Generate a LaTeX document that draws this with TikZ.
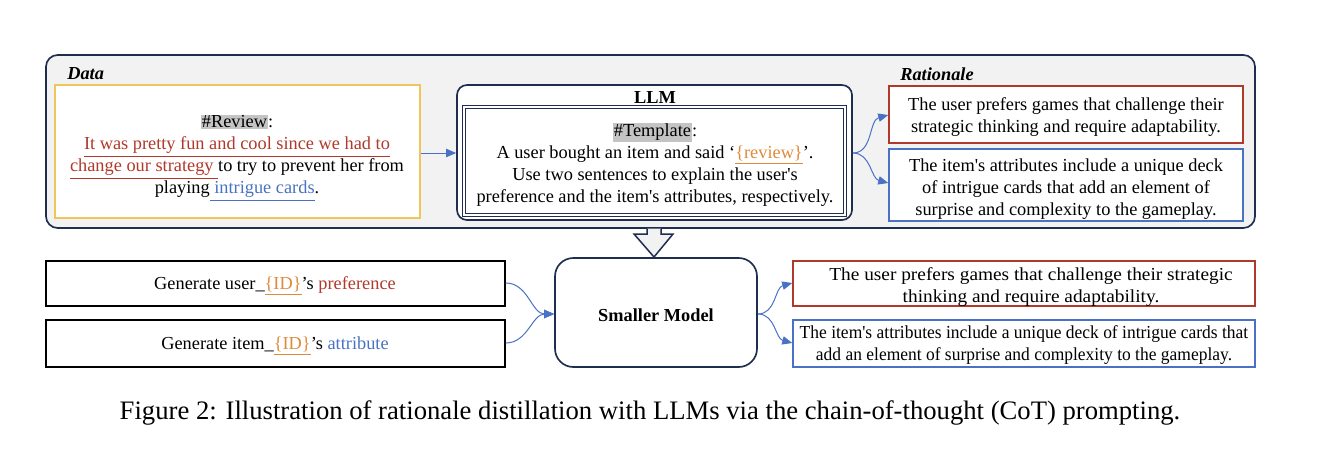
\documentclass[tikz,border=0pt]{standalone}
\usepackage{fontspec}
\setmainfont{Liberation Serif}
\usetikzlibrary{arrows.meta,fit}
\definecolor{navy}{HTML}{1F2D4E}
\definecolor{myred}{HTML}{B0392B}
\definecolor{myblue}{HTML}{4A72C4}
\definecolor{myorange}{HTML}{E08A3C}
\definecolor{myyellow}{HTML}{F0C65A}
\definecolor{panel}{HTML}{F2F2F2}
\definecolor{hl}{HTML}{C4C4C4}
\newcommand{\hlbox}[1]{{\setlength{\fboxsep}{0.6pt}\colorbox{hl}{#1}}}
\newcommand{\myul}[1]{\underline{#1}}
\newcommand{\twolines}[3]{\scalebox{#1}[1]{\begin{tabular}{@{}c@{}}#2\\#3\end{tabular}}}
\begin{document}
\begin{tikzpicture}[x=0.6pt,y=-0.6pt,
  txt/.style={font=\fontsize{11}{13.2}\selectfont, align=center, inner sep=0pt},
  frame/.style={inner sep=0pt, line width=0.9pt},
  conn/.style={draw=myblue, line width=0.6pt, -{Triangle[length=6pt,width=5pt]}},
  lbl/.style={font=\fontsize{11}{13.2}\selectfont\bfseries\itshape, anchor=west, inner sep=0pt}]
\useasboundingbox (0,0) rectangle (1321,453);

% top panel
\node[frame, fit={(46,55) (1255,228)}, draw=navy, fill=panel, rounded corners=7pt, line width=1pt] (panel) {};
\node[lbl] (datalbl) at (67,74) {Data};
\node[lbl] (ratlbl) at (900,74) {Rationale};

% data box
\node[frame, fit={(55,85) (420,218)}, draw=myyellow, fill=white, line width=1pt] (data) {};
\node[txt] (datatxt) at (237,158) {\hlbox{\#Review}:\\
{\color{myred}\myul{It was pretty fun and cool since we had to}}\\
{\color{myred}\myul{change our strategy\ }}to try to prevent her from\\
playing{\color{myblue}\myul{\ intrigue cards}}.};

% LLM box
\node[frame, fit={(457,85) (852,220)}, draw=navy, fill=white, rounded corners=6pt, line width=1pt] (llm) {};
\node[font=\fontsize{11}{13.2}\selectfont\bfseries, inner sep=0pt] (llmlbl) at (655,97) {LLM};
\node[frame, fit={(464,107) (845,215)}, draw=navy, double=white, double distance=1.3pt, line width=0.6pt] (tmpl) {};
\node[txt] (tmpltxt) at (655,165) {\hlbox{\#Template}:\\
A user bought an item and said `{\color{myorange}\myul{\{review\}}}'.\\
Use two sentences to explain the user\textquotesingle s\\
preference and the item\textquotesingle s attributes, respectively.};

% rationale boxes
\node[frame, fit={(889,86) (1243,143)}, draw=myred, fill=white] (rpref) {};
\node[txt] (rpreftxt) at (1066,117) {The user prefers games that challenge their\\strategic thinking and require adaptability.};
\node[frame, fit={(889,149) (1243,221)}, draw=myblue, fill=white] (rattr) {};
\node[txt] (rattrtxt) at (1066,189) {The item\textquotesingle s attributes include a unique deck\\of intrigue cards that add an element of\\surprise and complexity to the gameplay.};

% connectors in top panel
\draw[conn] (data.east |- 0,153) -- (llm.west |- 0,153);
\draw[conn] (llm.east |- 0,153) to[out=0,in=195] (rpref.west |- 0,115);
\draw[conn] (llm.east |- 0,153) to[out=0,in=165] (rattr.west |- 0,183);

% hollow arrow
\draw[navy, fill=panel, line width=0.9pt, line join=miter]
  (647,228.5) -- (647,234) -- (634,234) -- (654,257) -- (673,234) -- (661,234) -- (661,228.5);

% bottom row
\node[frame, fit={(46,261) (505,306)}, draw=black] (guser) {};
\node[txt] (gusertxt) at (275,286) {Generate user\_{\color{myorange}\myul{\{ID\}}}'s {\color{myred}preference}};
\node[frame, fit={(46,320) (505,367)}, draw=black] (gitem) {};
\node[txt] (gitemtxt) at (275,346) {Generate item\_{\color{myorange}\myul{\{ID\}}}'s {\color{myblue}attribute}};

\node[frame, fit={(555,258) (757,367)}, draw=navy, fill=white, rounded corners=11pt, line width=1pt] (small) {};
\node[font=\fontsize{11}{13.2}\selectfont\bfseries, inner sep=0pt] (smalltxt) at (656,315) {Smaller Model};

\node[frame, fit={(793,261) (1255,306)}, draw=myred] (spref) {};
\node[txt] (spreftxt) at (1031,287) {\twolines{1.055}{The user prefers games that challenge their strategic}{thinking and require adaptability.}};
\node[frame, fit={(793,320) (1255,367)}, draw=myblue] (sattr) {};
\node[txt] (sattrtxt) at (1024,345) {\twolines{0.953}{The item\textquotesingle s attributes include a unique deck of intrigue cards that}{add an element of surprise and complexity to the gameplay.}};

\draw[conn] (guser.east |- 0,283) to[out=0,in=180] (small.west |- 0,314);
\draw[conn] (gitem.east |- 0,343) to[out=0,in=180] (small.west |- 0,314);
\draw[conn] (small.east |- 0,314) to[out=0,in=195] (spref.west |- 0,283);
\draw[conn] (small.east |- 0,314) to[out=0,in=165] (sattr.west |- 0,343);

% caption
\node[font=\fontsize{16}{18}\selectfont, inner sep=0pt] (caption) at (650,413) {Figure 2: Illustration of rationale distillation with LLMs via the chain-of-thought (CoT) prompting.};
\end{tikzpicture}
\end{document}
